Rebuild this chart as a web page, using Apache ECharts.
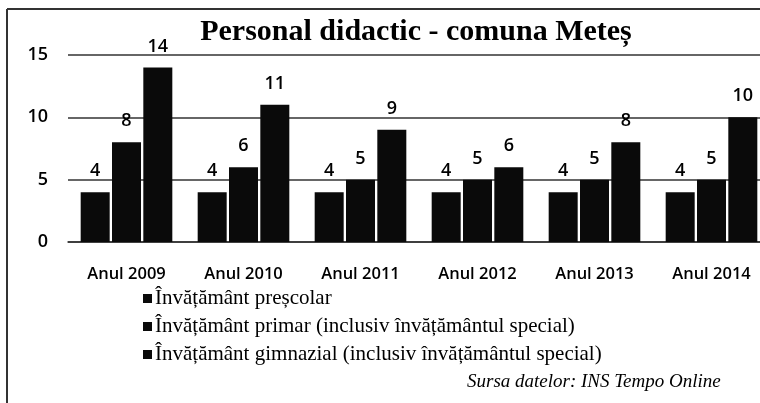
<!DOCTYPE html>
<html>
<head>
<meta charset="utf-8">
<script src="https://cdn.jsdelivr.net/npm/echarts@6/dist/echarts.min.js"></script>
<style>
html, body { margin: 0; padding: 0; background: #fff; overflow: hidden; }
#chart { width: 770px; height: 403px; }
</style>
</head>
<body>
<div id="chart"></div>
<script>
var years = ['Anul 2009', 'Anul 2010', 'Anul 2011', 'Anul 2012', 'Anul 2013', 'Anul 2014'];
var seriesNames = [
	'Învățământ preșcolar',
	'Învățământ primar (inclusiv învățământul special)',
	'Învățământ gimnazial (inclusiv învățământul special)'
];
var prescolar = [4, 4, 4, 4, 4, 4];
var primar = [8, 6, 5, 5, 5, 5];
var gimnazial = [14, 11, 9, 6, 8, 10];
var yTicks = [0, 5, 10, 15];

// the chart is a bit wider than the window: the last bar is cut off, like in the scan
var myChart = echarts.init(document.getElementById('chart'));

function barSeries(name, data) {
	return {
		name: name,
		type: 'bar',
		data: data,
		barWidth: 29,
		barGap: '8%',
		itemStyle: { color: '#0a0a0a' },
		label: {
			show: true,
			position: 'top',
			distance: 12,
			color: '#000',
			fontFamily: 'Open Sans',
			fontWeight: 600,
			fontSize: 18
		}
	};
}

var option = {
	backgroundColor: '#fff',
	animation: false,
	title: [
		{
			text: 'Personal didactic - comuna Meteș',
			left: 411,
			textAlign: 'center',
			top: 12,
			textStyle: {
				fontFamily: 'Liberation Serif',
				fontWeight: 'bold',
				fontSize: 30,
				color: '#000'
			}
		},
		{
			text: 'Sursa datelor: INS Tempo Online',
			left: 462,
			top: 367,
			textStyle: {
				fontFamily: 'Liberation Serif',
				fontStyle: 'italic',
				fontWeight: 'normal',
				fontSize: 19,
				color: '#000'
			}
		}
	],
	legend: {
		orient: 'vertical',
		left: 138,
		top: 283,
		icon: 'rect',
		itemWidth: 9,
		itemHeight: 9,
		itemGap: 7,
		data: seriesNames,
		textStyle: {
			fontFamily: 'Liberation Serif',
			fontSize: 21,
			color: '#000',
			padding: [0, 0, 0, -2]
		}
	},
	grid: {
		left: 68,
		right: 0,
		top: 55,
		bottom: 161,
		containLabel: false
	},
	xAxis: {
		type: 'category',
		data: years,
		axisLine: { show: true, lineStyle: { color: '#333', width: 1.5 } },
		axisTick: { show: false },
		axisLabel: {
			margin: 24,
			color: '#000',
			fontFamily: 'Open Sans',
			fontWeight: 600,
			fontSize: 16.5
		}
	},
	yAxis: {
		type: 'value',
		min: yTicks[0],
		max: yTicks[yTicks.length - 1],
		interval: 5,
		axisLine: { show: false },
		axisTick: { show: false },
		axisLabel: {
			margin: 20,
			color: '#000',
			fontFamily: 'Open Sans',
			fontWeight: 600,
			fontSize: 18
		},
		splitLine: { lineStyle: { color: '#333', width: 1.5 } }
	},
	graphic: [
		{ type: 'line', shape: { x1: 7, y1: 9, x2: 7, y2: 403 }, style: { stroke: '#333', lineWidth: 2 } },
		{ type: 'line', shape: { x1: 7, y1: 9, x2: 770, y2: 9 }, style: { stroke: '#333', lineWidth: 2 } }
	],
	series: [
		barSeries(seriesNames[0], prescolar),
		barSeries(seriesNames[1], primar),
		barSeries(seriesNames[2], gimnazial)
	]
};

myChart.setOption(option);
</script>
</body>
</html>
